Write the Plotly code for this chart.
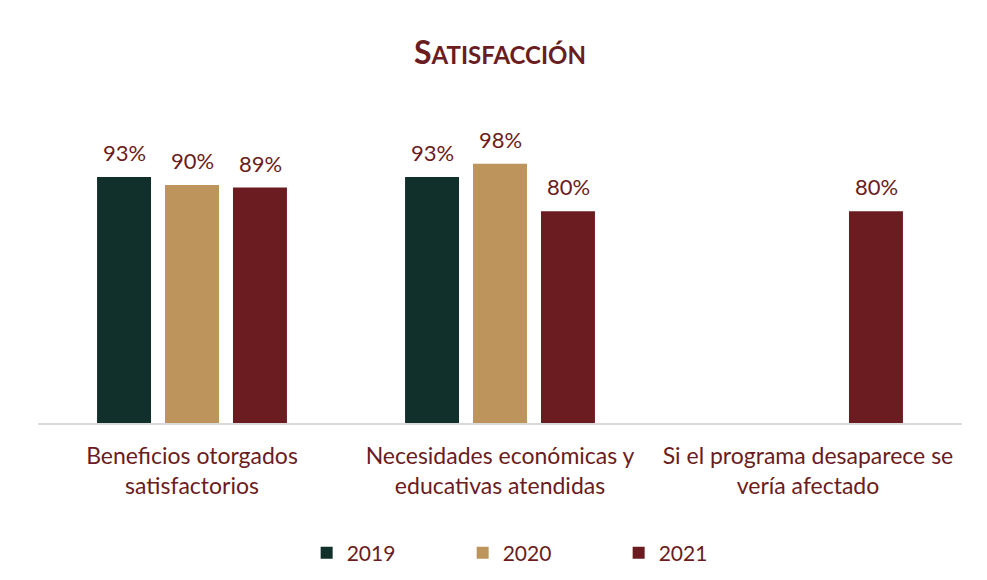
import plotly.graph_objects as go

categories = ["Beneficios otorgados<br>satisfactorios",
              "Necesidades económicas y<br>educativas atendidas",
              "Si el programa desaparece se<br>vería afectado"]
years = ["2019", "2020", "2021"]
values = {
    "2019": [93, 93, None],
    "2020": [90, 98, None],
    "2021": [89, 80, 80],
}
colors = {"2019": "#12302B", "2020": "#BD955C", "2021": "#6A1C21"}

TEXT = "#6A1C21"
FONT = "Lato"

fig = go.Figure()
for y in years:
    vals = values[y]
    fig.add_trace(go.Bar(
        name=y, x=categories, y=vals,
        marker=dict(color=colors[y], line=dict(width=0)),
        cliponaxis=False,
    ))

# value labels placed through the data axes (offset by group slot)
slot_shift = {"2019": -68, "2020": 0, "2021": 68}
for y in years:
    for cat, v in zip(categories, values[y]):
        if v is None:
            continue
        fig.add_annotation(x=cat, y=v, xref="x", yref="y",
                           text=f"{v}%", showarrow=False,
                           xshift=slot_shift[y], yshift=9,
                           yanchor="bottom", xanchor="center",
                           font=dict(color=TEXT, size=22, family=FONT))

fig.update_layout(
    width=987, height=580,
    paper_bgcolor="white", plot_bgcolor="white",
    barmode="group", bargap=0.338, bargroupgap=0.206,
    margin=dict(l=30, r=33, t=124, b=165),
    title=dict(text="<b>S<span style='font-size:24px'>ATISFACCIÓN</span></b>",
               x=0.4985, xanchor="center", y=0.922, yanchor="middle",
               font=dict(color=TEXT, size=32, family=FONT)),
    font=dict(family=FONT, color=TEXT, size=23),
    xaxis=dict(showline=True, linecolor="#D9D9D9", linewidth=1.5,
               tickfont=dict(size=23, color=TEXT, family=FONT),
               showgrid=False, ticks="", ticklabelstandoff=12),
    yaxis=dict(range=[0, 110], visible=False, showgrid=False),
    legend=dict(orientation="h", x=0.544, xanchor="center", y=-0.4475, yanchor="middle",
                font=dict(size=21, color=TEXT, family=FONT),
                entrywidth=111, itemwidth=30),
    showlegend=True,
)

fig.write_html("out.html")
